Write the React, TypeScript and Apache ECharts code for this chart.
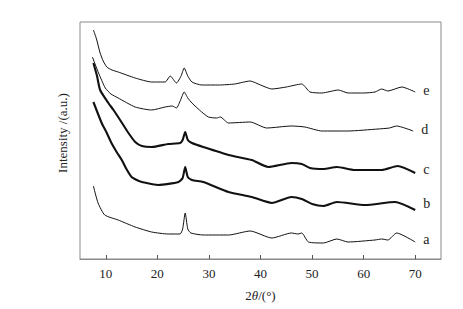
import React, { useEffect, useRef } from "react";
import * as echarts from "echarts";

const xTicks = [10, 20, 30, 40, 50, 60, 70];
const seriesNames = ["e", "d", "c", "b", "a"];

const curveE: number[][] = [[7.6,229],[8.2,220],[8.9,206],[9.5,198],[10.2,192],[11.2,189],[12.4,187],[15.7,181],[18.9,177],[21.5,177],[22.5,183],[23.7,176],[24.6,183],[25.2,191],[25.9,183],[26.7,177],[28.6,174],[32,174],[35,175],[38,178],[40,174],[42.2,170],[45,172],[48,175],[49.6,167],[51.9,166],[55.1,169],[57,166],[60,166],[62.2,167],[63.5,170],[64.7,168],[67.4,172],[70,167]];
const curveD: number[][] = [[7.4,202],[8.6,186],[9.9,171],[11,165],[12.4,161],[15.7,152],[18.9,149],[21.5,152],[22.9,153],[23.7,151],[24.5,159],[25.2,167],[25.9,161],[26.7,156],[28.6,147],[29.9,142],[31.5,141],[32.2,142],[33.8,136],[38,137],[41.2,131],[46,133],[48.6,132],[51.9,128],[57,128],[62.8,130],[65,131],[66.4,133],[69.6,128]];
const curveC: number[][] = [[7.6,196],[8.3,183],[8.9,169],[10.5,156],[11.5,149],[12.4,142],[13.4,134],[14.4,126],[15.7,117],[17,113],[18.9,112],[22.1,115],[24.4,116],[24.9,119],[25.4,127],[25.9,119],[26.7,116],[28.9,112],[33.8,104],[38.3,99],[41.5,92],[46,96],[48,95],[49.6,91],[52.2,90],[54.8,92],[58.3,89],[63.5,89],[66.6,93],[70,86]];
const curveB: number[][] = [[7.6,157],[9.2,136],[10.2,126],[11.1,116],[12.1,107],[13.1,99],[14,90],[15,82],[16,79],[17,77],[20.2,74],[24.1,77],[24.9,81],[25.4,92],[25.9,82],[26.7,79],[28.9,77],[33.8,67],[38.3,62],[42.2,56],[46,62],[48,60],[50,55],[52.2,53],[54.8,57],[60.3,54],[66.1,57],[70,49]];
const curveA: number[][] = [[7.6,73],[8.5,56],[9.8,44],[12.4,39],[15.7,32],[18.9,27],[22.1,25],[24.4,25],[24.9,30],[25.4,46],[25.9,30],[26.5,26],[28.9,24],[33.8,24],[38,28],[42.2,21],[46,26],[47.3,25],[48,26],[49.3,17],[52.2,16],[54.8,20],[57,17],[62.2,19],[63.5,20],[64.7,19],[66.4,26],[70,17]];

const curves = [curveE, curveD, curveC, curveB, curveA];
const widths = [1, 1, 2.1, 2.1, 1];
const labelOffsets = [[4, -2], [4, -2], [4, -4], [4, -7], [4, -3]];

export default function App() {
  const ref = useRef<HTMLDivElement>(null);
  useEffect(() => {
    if (!ref.current) return;
    const chart = echarts.init(ref.current, undefined, { renderer: "svg" });
    const font = "Liberation Serif, Times New Roman, serif";
    chart.setOption({
      animation: false,
      backgroundColor: "#fff",
      textStyle: { fontFamily: font },
      grid: {
        left: 80, top: 22, right: 22, bottom: 50,
        show: true, borderColor: "#8a8a8a", borderWidth: 1,
      },
      xAxis: {
        type: "value", min: 5, max: 75,
        axisLine: { show: true, lineStyle: { color: "#8a8a8a", width: 1 } },
        axisTick: { show: true, inside: true, length: 4, customValues: xTicks, lineStyle: { color: "#555" } },
        axisLabel: { customValues: xTicks, color: "#222", fontFamily: font, fontSize: 13, margin: 8 },
        splitLine: { show: false },
        name: "2{i|θ}/(°)",
        nameLocation: "middle",
        nameGap: 30,
        nameTextStyle: {
          color: "#222", fontFamily: font, fontSize: 13,
          rich: { i: { fontStyle: "italic", fontFamily: font, fontSize: 13, color: "#222" } },
        },
      },
      yAxis: {
        type: "value", min: 0, max: 237,
        axisLine: { show: false }, axisTick: { show: false }, axisLabel: { show: false },
        splitLine: { show: false },
      },
      graphic: [
        {
          type: "text", x: 62, y: 133, rotation: Math.PI / 2,
          style: {
            text: "Intensity /(a.u.)", fill: "#222", fontFamily: font, fontSize: 13,
            align: "center", verticalAlign: "middle",
          },
        },
      ],
      series: curves.map((c, i) => ({
        type: "line",
        name: seriesNames[i],
        data: c,
        showSymbol: false,
        smooth: 0.2,
        lineStyle: { color: "#111", width: widths[i] },
        endLabel: {
          show: true,
          formatter: seriesNames[i],
          color: "#222",
          fontFamily: font,
          fontSize: 14,
          distance: 4,
          offset: labelOffsets[i],
        },
      })),
    });
    return () => chart.dispose();
  }, []);
  return <div ref={ref} style={{ position: "absolute", left: 0, top: 0, width: 463, height: 309 }} />;
}
